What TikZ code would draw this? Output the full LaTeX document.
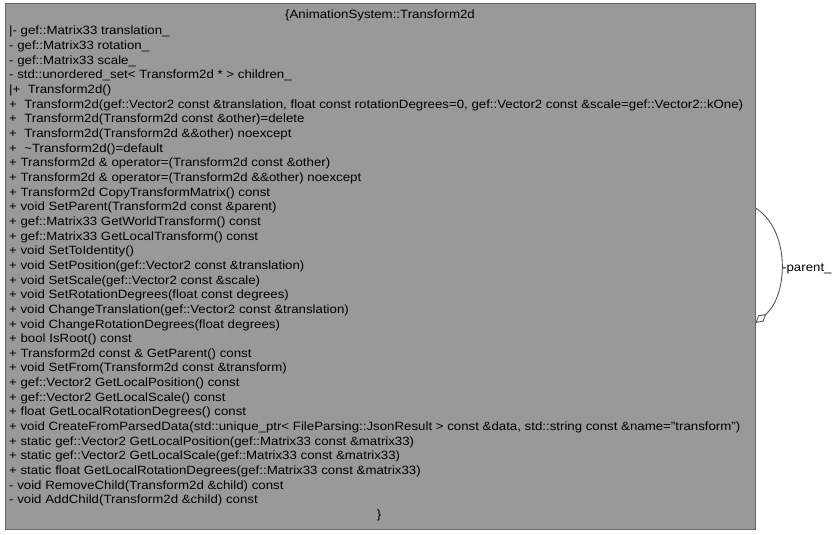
\documentclass[tikz,border=0pt]{standalone}
\usepackage{fontspec}
\setmainfont{Liberation Sans}[FakeStretch=1.105]
\usetikzlibrary{arrows.meta}
\definecolor{boxfill}{HTML}{999999}
\definecolor{boxline}{HTML}{666666}
\definecolor{edgeline}{HTML}{555555}
\begin{document}
\begin{tikzpicture}[x=1pt,y=-1pt,
  member/.style={anchor=base west,inner sep=0pt,font=\fontsize{12}{14}\selectfont},
  classbox/.style={draw=boxline,fill=boxfill,line width=1pt,minimum width=750pt,minimum height=525pt,inner sep=0pt},
  selfedge/.style={draw=edgeline,line width=0.9pt,-{Diamond[open,length=14pt,width=8pt,line width=0.9pt]}}]
\useasboundingbox (0,0) rectangle (836,535);
\node[classbox] (box) at (380,266.5) {};
\node[member,anchor=base] (title) at (380,19) {\{AnimationSystem::Transform2d};
\node[member] (l1) at (9,{35+14.65*0}) {|- gef::Matrix33 translation\_};
\node[member] (l2) at (9,{35+14.65*1}) {- gef::Matrix33 rotation\_};
\node[member] (l3) at (9,{35+14.65*2}) {- gef::Matrix33 scale\_};
\node[member] (l4) at (9,{35+14.65*3}) {- std::unordered\_set< Transform2d * > children\_};
\node[member] (l5) at (9,{35+14.65*4}) {|+\ \ Transform2d()};
\node[member] (l6) at (9,{35+14.65*5}) {+\ \ Transform2d(gef::Vector2 const \&translation, float const rotationDegrees=0, gef::Vector2 const \&scale=gef::Vector2::kOne)};
\node[member] (l7) at (9,{35+14.65*6}) {+\ \ Transform2d(Transform2d const \&other)=delete};
\node[member] (l8) at (9,{35+14.65*7}) {+\ \ Transform2d(Transform2d \&\&other) noexcept};
\node[member] (l9) at (9,{35+14.65*8}) {+\ \ \textasciitilde Transform2d()=default};
\node[member] (l10) at (9,{35+14.65*9}) {+ Transform2d \& operator=(Transform2d const \&other)};
\node[member] (l11) at (9,{35+14.65*10}) {+ Transform2d \& operator=(Transform2d \&\&other) noexcept};
\node[member] (l12) at (9,{35+14.65*11}) {+ Transform2d CopyTransformMatrix() const};
\node[member] (l13) at (9,{35+14.65*12}) {+ void SetParent(Transform2d const \&parent)};
\node[member] (l14) at (9,{35+14.65*13}) {+ gef::Matrix33 GetWorldTransform() const};
\node[member] (l15) at (9,{35+14.65*14}) {+ gef::Matrix33 GetLocalTransform() const};
\node[member] (l16) at (9,{35+14.65*15}) {+ void SetToIdentity()};
\node[member] (l17) at (9,{35+14.65*16}) {+ void SetPosition(gef::Vector2 const \&translation)};
\node[member] (l18) at (9,{35+14.65*17}) {+ void SetScale(gef::Vector2 const \&scale)};
\node[member] (l19) at (9,{35+14.65*18}) {+ void SetRotationDegrees(float const degrees)};
\node[member] (l20) at (9,{35+14.65*19}) {+ void ChangeTranslation(gef::Vector2 const \&translation)};
\node[member] (l21) at (9,{35+14.65*20}) {+ void ChangeRotationDegrees(float degrees)};
\node[member] (l22) at (9,{35+14.65*21}) {+ bool IsRoot() const};
\node[member] (l23) at (9,{35+14.65*22}) {+ Transform2d const \& GetParent() const};
\node[member] (l24) at (9,{35+14.65*23}) {+ void SetFrom(Transform2d const \&transform)};
\node[member] (l25) at (9,{35+14.65*24}) {+ gef::Vector2 GetLocalPosition() const};
\node[member] (l26) at (9,{35+14.65*25}) {+ gef::Vector2 GetLocalScale() const};
\node[member] (l27) at (9,{35+14.65*26}) {+ float GetLocalRotationDegrees() const};
\node[member] (l28) at (9,{35+14.65*27}) {+ void CreateFromParsedData(std::unique\_ptr< FileParsing::JsonResult > const \&data, std::string const \&name="transform")};
\node[member] (l29) at (9,{35+14.65*28}) {+ static gef::Vector2 GetLocalPosition(gef::Matrix33 const \&matrix33)};
\node[member] (l30) at (9,{35+14.65*29}) {+ static gef::Vector2 GetLocalScale(gef::Matrix33 const \&matrix33)};
\node[member] (l31) at (9,{35+14.65*30}) {+ static float GetLocalRotationDegrees(gef::Matrix33 const \&matrix33)};
\node[member] (l32) at (9,{35+14.65*31}) {- void RemoveChild(Transform2d \&child) const};
\node[member] (l33) at (9,{35+14.65*32}) {- void AddChild(Transform2d \&child) const};
\node[member,anchor=base] (close) at (379,518) {\}};
\draw[selfedge] ([yshift=58.5pt]box.east) .. controls +(35,22) and +(33,-28) .. ([yshift=-56.5pt]box.east);
\node[member,anchor=base west] (lbl) at (782,271) {-parent\_};
\end{tikzpicture}
\end{document}
